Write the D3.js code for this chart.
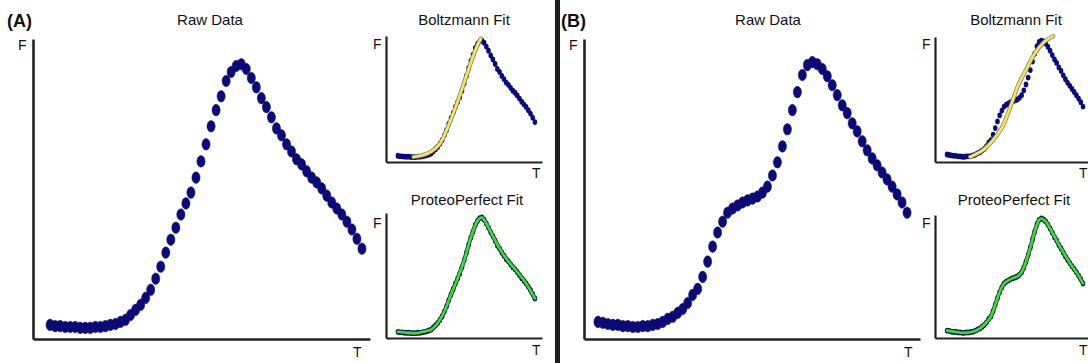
<!DOCTYPE html>
<html>
<head>
<meta charset="utf-8">
<script src="https://cdn.jsdelivr.net/npm/d3@7"></script>
<style>
  body { margin: 0; background: #fff; }
  svg { display: block; font-family: "Liberation Sans", Arial, sans-serif; }
</style>
</head>
<body>
<svg id="chart" width="1088" height="363"></svg>
<script>
// temperature steps (arbitrary units)
const temps = [30, 31, 32, 33, 34, 35, 36, 37, 38, 39, 40, 41, 42, 43, 44, 45, 46, 47, 48, 49,
  50, 51, 52, 53, 54, 55, 56, 57, 58, 59, 60, 61, 62, 63, 64, 65, 66, 67, 68, 69,
  70, 71, 72, 73, 74, 75, 76, 77, 78, 79, 80, 81, 82, 83, 84, 85, 86, 87, 88, 89,
  90, 91, 92];

// fluorescence, panel A (single transition)
const rawA = [4.7, 4.3, 4.3, 4.0, 4.0, 4.0, 3.7, 3.7, 3.7, 4.0, 4.0, 4.3, 4.7, 5.0, 5.7, 6.4, 8.0, 9.7, 11.4, 13.7,
  16.4, 20.1, 24.1, 28.8, 33.1, 37.1, 41.5, 45.2, 48.8, 53.8, 59.2, 64.9, 70.9, 76.3, 80.9, 86.0, 89.0, 91.0, 91.6, 90.0,
  87.0, 83.9, 80.3, 77.3, 73.9, 70.2, 67.9, 64.9, 62.5, 59.9, 58.2, 55.9, 53.8, 52.2, 50.2, 47.8, 45.5, 43.5, 41.5, 39.1,
  36.5, 33.4, 30.1];

// fluorescence, panel B (two transitions)
const rawB = [5.7, 5.4, 5.0, 4.7, 4.7, 4.3, 4.3, 4.0, 4.0, 4.3, 4.3, 4.7, 5.0, 5.7, 6.7, 7.4, 8.7, 10.0, 12.0, 14.7,
  16.7, 20.7, 25.8, 30.8, 35.5, 39.1, 42.1, 43.5, 44.5, 45.5, 46.2, 46.8, 47.5, 48.8, 50.8, 54.5, 58.9, 64.2, 69.9, 76.3,
  82.3, 88.0, 91.3, 92.3, 91.6, 90.0, 87.6, 84.6, 81.3, 77.9, 75.3, 71.9, 69.2, 65.9, 62.9, 60.2, 57.9, 55.5, 53.2, 50.8,
  48.2, 45.5, 42.1];

// Boltzmann fits
const boltzAT = [37, 41, 45, 49, 53, 57, 61, 64, 66, 67.5];
const boltzAF = [3.8, 5.0, 7.8, 13.8, 28.0, 45.5, 65.0, 79.5, 88.0, 93.0];
const boltzBT = [40.5, 46.4, 51.0, 55.1, 58.8, 62.4, 66.5, 70.2, 73.8, 78.4];
const boltzBF = [3.8, 9.0, 16.6, 26.4, 41.5, 58.1, 71.6, 83.0, 90.5, 95.8];

// ProteoPerfect fits
const ppAT = [30, 34, 38, 42, 45, 48, 51, 54, 57, 60, 63, 66, 68, 70, 73, 76, 80, 84, 88, 92];
const ppAF = [4.7, 4.0, 3.7, 5.0, 6.4, 11.4, 20.1, 33.1, 45.2, 59.2, 76.3, 89.0, 91.6, 87.0, 77.3, 67.9, 58.2, 50.2, 41.5, 30.1];
const ppBT = [30, 34, 38, 42, 45, 48, 50, 52, 54, 56, 58, 60, 62, 64, 66, 68, 70, 72, 73, 75, 78, 82, 86, 90, 92];
const ppBF = [5.7, 4.7, 4.0, 5.0, 7.4, 12.0, 16.7, 25.8, 35.5, 42.1, 44.5, 46.2, 47.5, 50.8, 58.9, 69.9, 82.3, 91.3, 92.3, 90.0, 81.3, 69.2, 57.9, 48.2, 42.1];

const svg = d3.select('#chart');
const navy = '#0a0a7c';
const axisColor = '#222';

function zip(xs, ys) { return xs.map((t, i) => ({ t: t, f: ys[i] })); }

function drawAxes(g, x, y, w) {
  g.append('g')
    .attr('transform', 'translate(0,' + y.range()[0] + ')')
    .call(d3.axisBottom(x).tickValues([]).tickSizeOuter(0))
    .select('.domain').attr('stroke', axisColor).attr('stroke-width', w);
  g.append('g')
    .attr('transform', 'translate(' + x.range()[0] + ',0)')
    .call(d3.axisLeft(y).tickValues([]).tickSizeOuter(0))
    .select('.domain').attr('stroke', axisColor).attr('stroke-width', w);
}

function label(txt, x, y, size, anchor, weight) {
  svg.append('text')
    .attr('x', x).attr('y', y)
    .attr('font-size', size)
    .attr('text-anchor', anchor || 'start')
    .attr('font-weight', weight || 'normal')
    .attr('fill', '#111')
    .text(txt);
}

// big raw data plot
function rawPlot(data, xr, xd, yr) {
  const x = d3.scaleLinear().domain(xd).range(xr);
  const y = d3.scaleLinear().domain([0, 100]).range(yr);
  const g = svg.append('g');
  drawAxes(g, x, y, 2.6);
  g.selectAll('ellipse')
    .data(zip(temps, data))
    .enter().append('ellipse')
    .attr('cx', d => x(d.t))
    .attr('cy', d => y(d.f))
    .attr('rx', 4.1)
    .attr('ry', 5.8)
    .attr('fill', navy)
    .attr('stroke', '#15154a')
    .attr('stroke-width', 0.5);
}

// small fit plot
function fitPlot(data, fitT, fitF, xr, xd, yr, color, edge) {
  const x = d3.scaleLinear().domain(xd).range(xr);
  const y = d3.scaleLinear().domain([0, 95]).range(yr);
  const g = svg.append('g');
  drawAxes(g, x, y, 2.2);
  g.selectAll('ellipse')
    .data(zip(temps, data))
    .enter().append('ellipse')
    .attr('cx', d => x(d.t))
    .attr('cy', d => y(d.f))
    .attr('rx', 2.3)
    .attr('ry', 2.9)
    .attr('fill', navy);
  const line = d3.line()
    .x(d => x(d.t))
    .y(d => y(d.f))
    .curve(d3.curveCatmullRom.alpha(0.5));
  const fit = zip(fitT, fitF);
  g.append('path')
    .attr('d', line(fit))
    .attr('fill', 'none')
    .attr('stroke', edge)
    .attr('stroke-width', 4.2)
    .attr('stroke-linecap', 'round');
  g.append('path')
    .attr('d', line(fit))
    .attr('fill', 'none')
    .attr('stroke', color)
    .attr('stroke-width', 2.6)
    .attr('stroke-linecap', 'round');
}

// panel separator
svg.append('rect')
  .attr('x', 555).attr('y', 0)
  .attr('width', 5).attr('height', 363)
  .attr('fill', '#1e1e1e');

const yellow = '#f2e46e', yellowEdge = '#8d8340';
const green = '#3ddc3d', greenEdge = '#17401f';

// panel A
rawPlot(rawA, [33, 370], [26.6, 93.6], [339, 39]);
fitPlot(rawA, boltzAT, boltzAF, [386, 542], [24.6, 95.2], [162, 36], yellow, yellowEdge);
fitPlot(rawA, ppAT, ppAF, [386, 542], [24.6, 95.2], [338, 213], green, greenEdge);

label('(A)', 7, 27, 18, 'start', 'bold');
label('Raw Data', 210, 25, 15, 'middle');
label('F', 18, 50, 14);
label('T', 353, 357, 14);
label('Boltzmann Fit', 464, 25, 15, 'middle');
label('F', 373, 49, 14);
label('T', 532, 178, 14);
label('ProteoPerfect Fit', 467, 205, 15, 'middle');
label('F', 373, 228, 14);
label('T', 532, 355, 14);

// panel B
rawPlot(rawB, [584, 920], [27.2, 94.6], [339, 39]);
fitPlot(rawB, boltzBT, boltzBF, [935, 1090], [24.5, 95.2], [162, 37], yellow, yellowEdge);
fitPlot(rawB, ppBT, ppBF, [935, 1090], [24.5, 95.2], [338, 215], green, greenEdge);

label('(B)', 561, 27, 18, 'start', 'bold');
label('Raw Data', 768, 25, 15, 'middle');
label('F', 569, 50, 14);
label('T', 904, 357, 14);
label('Boltzmann Fit', 1016, 25, 15, 'middle');
label('F', 922, 49, 14);
label('T', 1079, 178, 14);
label('ProteoPerfect Fit', 1014, 205, 15, 'middle');
label('F', 922, 228, 14);
label('T', 1079, 355, 14);
</script>
</body>
</html>
